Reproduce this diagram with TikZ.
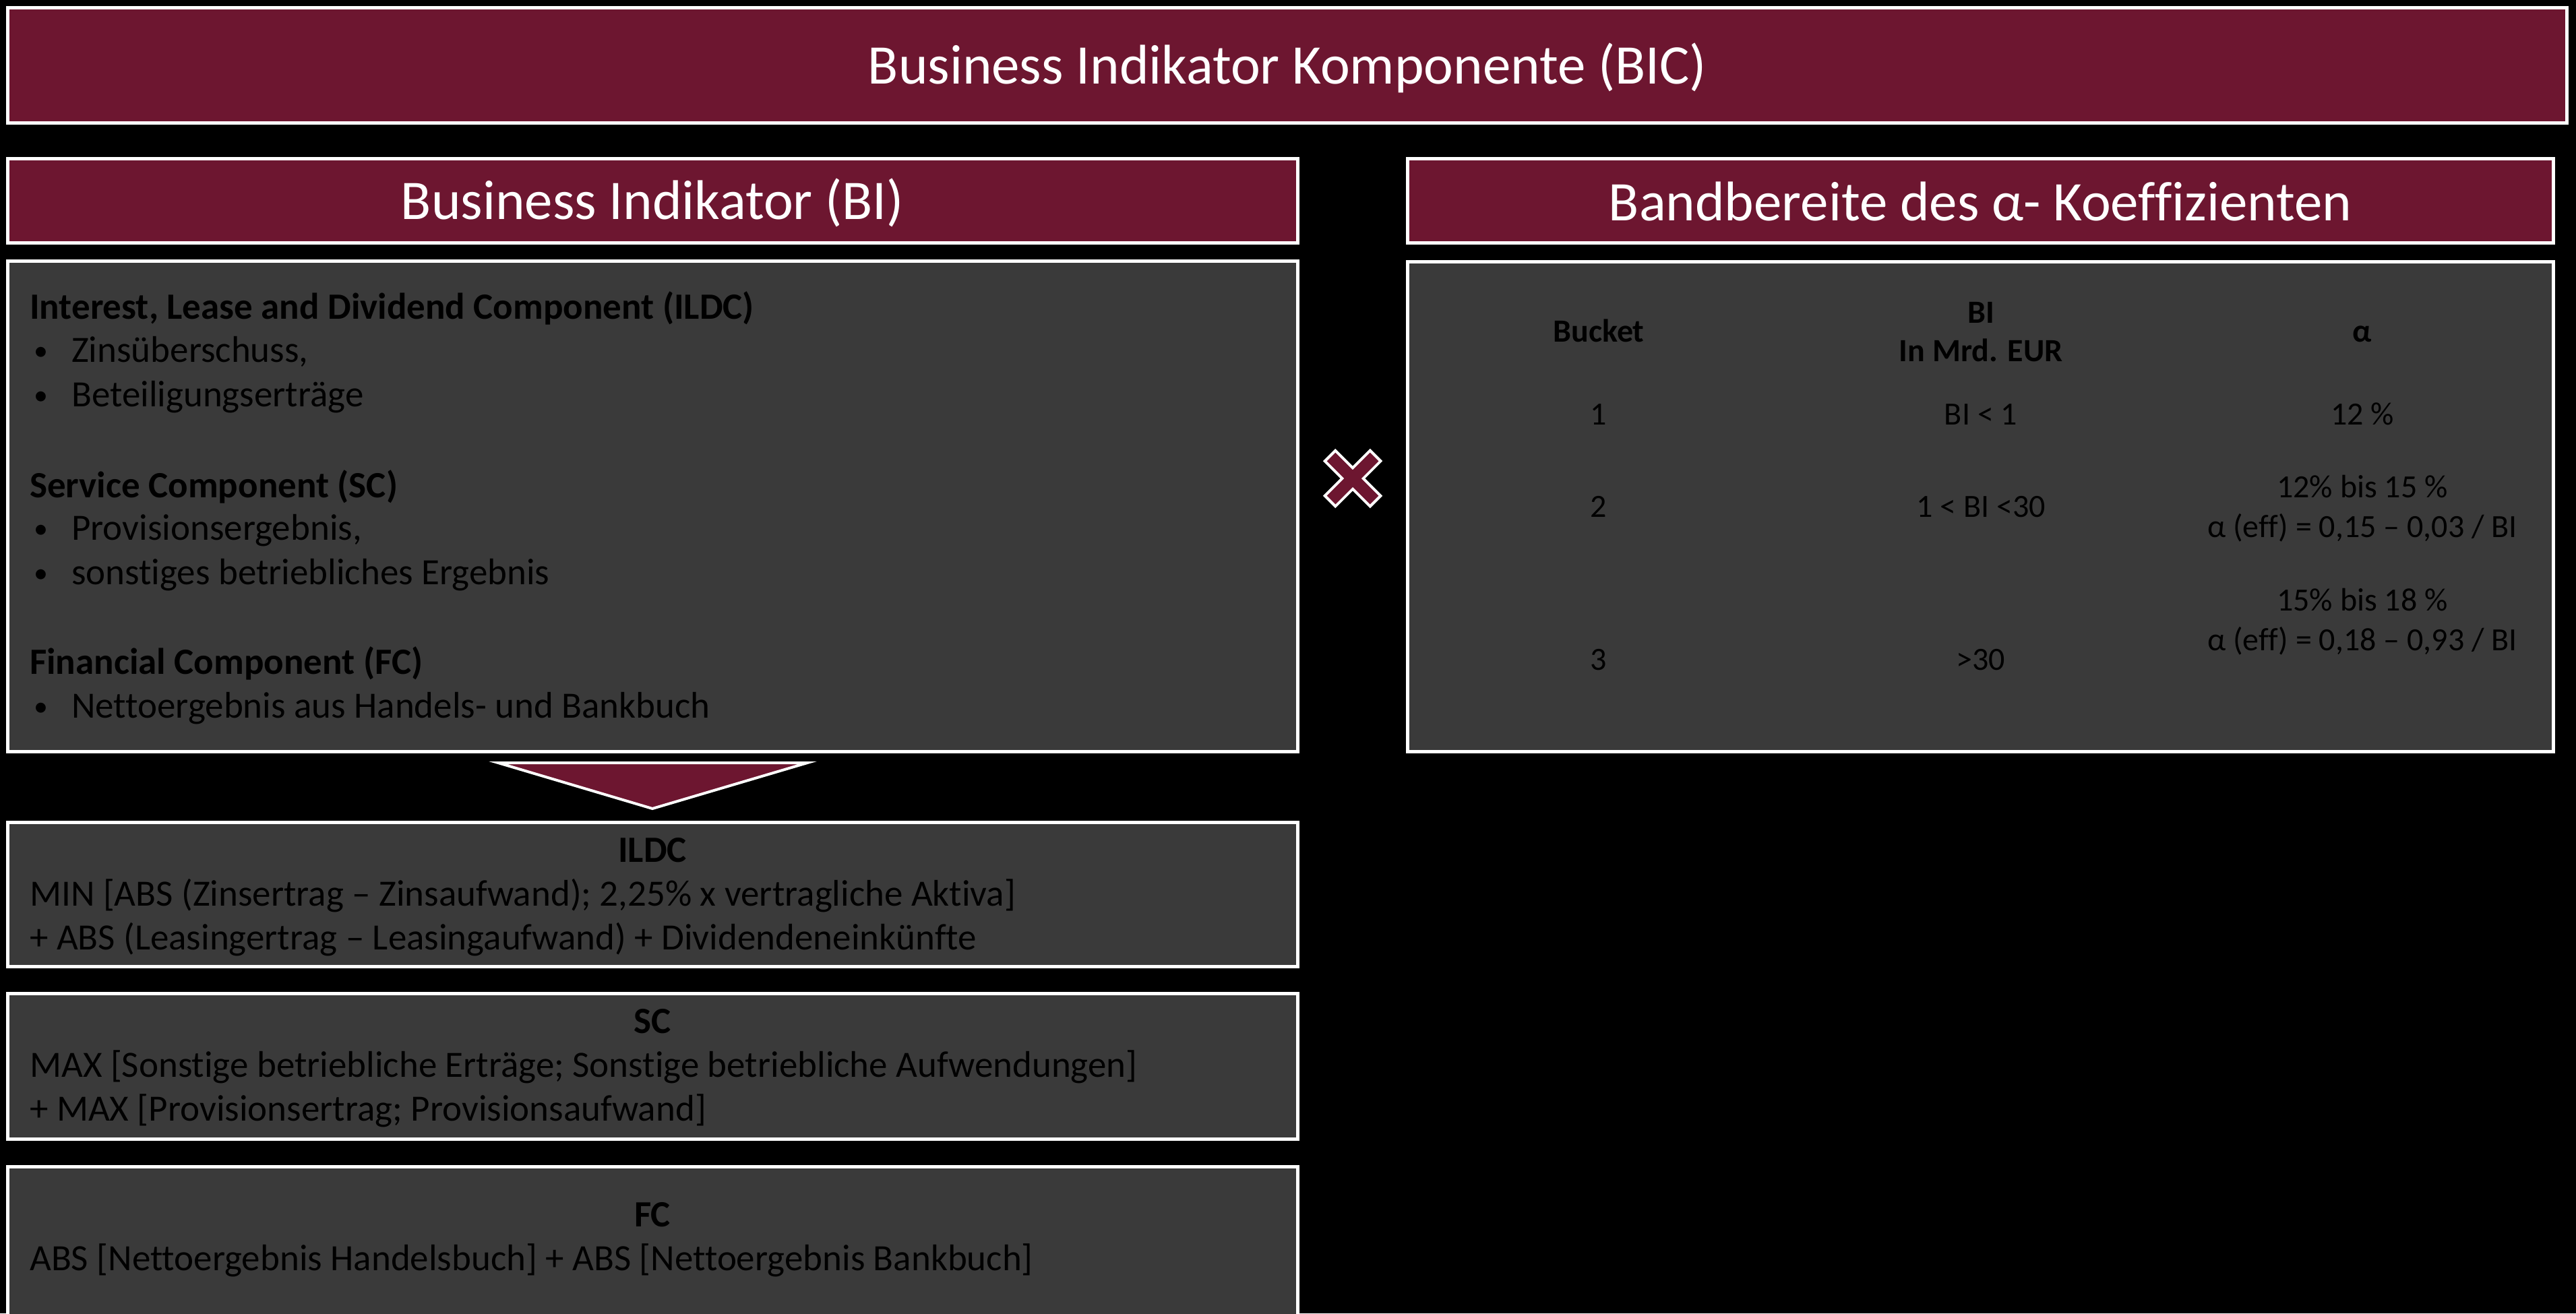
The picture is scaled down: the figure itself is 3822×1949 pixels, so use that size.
\documentclass[tikz,border=0pt]{standalone}
\usepackage{fontspec}
\setmainfont{Carlito}[Ligatures={NoCommon}]
\definecolor{maroon}{RGB}{109,22,48}
\definecolor{boxgray}{RGB}{58,58,58}
\begin{document}
\begin{tikzpicture}[x=1pt,y=-1pt,
  frame/.style={draw=white, line width=5pt, inner sep=0pt, outer sep=0pt, rectangle, anchor=north west},
  headbox/.style={frame, fill=maroon},
  bodybox/.style={frame, fill=boxgray},
  titletxt/.style={text=white, font=\fontsize{83}{100}\selectfont, anchor=base, inner sep=0pt},
  txt/.style={text=black, font=\fontsize{55}{66}\selectfont, anchor=base west, inner sep=0pt},
  bul/.style={txt, font=\fontsize{42}{50}\selectfont},
  btxt/.style={txt, font=\fontsize{55}{66}\selectfont\bfseries},
  ctxt/.style={txt, anchor=base, font=\fontsize{55}{66}\selectfont\bfseries},
  tab/.style={text=black, font=\fontsize{48}{58}\selectfont, anchor=base, inner sep=0pt},
  btab/.style={tab, font=\fontsize{48}{58}\selectfont\bfseries}
]
\useasboundingbox (0,0) rectangle (3822,1949);
\begin{scope}
\clip (0,0) rectangle (3822,1949);
\fill[black] (0,0) rectangle (3822,1949);

% boxes
\node[headbox, minimum width=3797, minimum height=171] (bic) at (11.5,11.5) {};
\node[headbox, minimum width=1914, minimum height=125] (bih) at (11.5,235.5) {};
\node[bodybox, minimum width=1914, minimum height=728] (bibody) at (11.5,387.5) {};
\node[bodybox, minimum width=1914, minimum height=214] (ildc) at (11.5,1220.5) {};
\node[bodybox, minimum width=1914, minimum height=216] (sc) at (11.5,1474.5) {};
\node[bodybox, minimum width=1914, minimum height=400] (fc) at (11.5,1731.5) {};
\node[headbox, minimum width=1700, minimum height=125] (bandh) at (2088.5,235.5) {};
\node[bodybox, minimum width=1700, minimum height=727] (tabbox) at (2088.5,388.5) {};

% titles
\node[titletxt] (bictxt) at (1910,124) {Business Indikator Komponente (BIC)};
\node[titletxt] (bihtxt) at (968,325) {Business Indikator (BI)};
\node[titletxt] (bandtxt) at (2938,327) {Bandbereite des α- Koeffizienten};

% BI body
\node[btxt] (h1) at (44,473) {Interest, Lease and Dividend Component (ILDC)};
\node[bul] (b1) at (50,534) {•};
\node[txt] (l1) at (106,537) {Zinsüberschuss,};
\node[bul] (b2) at (50,600) {•};
\node[txt] (l2) at (106,603) {Beteiligungserträge};
\node[btxt] (h2) at (44,738) {Service Component (SC)};
\node[bul] (b3) at (50,798) {•};
\node[txt] (l3) at (106,801) {Provisionsergebnis,};
\node[bul] (b4) at (50,864) {•};
\node[txt] (l4) at (106,867) {sonstiges betriebliches Ergebnis};
\node[btxt] (h3) at (44,1000) {Financial Component (FC)};
\node[bul] (b5) at (50,1062) {•};
\node[txt] (l5) at (106,1065) {Nettoergebnis aus Handels- und Bankbuch};

% arrow triangle
\coordinate (tl) at (739,1132);
\coordinate (tr) at (1198,1132);
\coordinate (tp) at (968,1200);
\filldraw[fill=maroon, draw=white, line width=4pt] (tl) -- (tr) -- (tp) -- cycle;

% formula boxes
\node[ctxt] (ildch) at (968,1279) {ILDC};
\node[txt] (ildc1) at (44,1344) {MIN [ABS (Zinsertrag – Zinsaufwand); 2,25\% x vertragliche Aktiva]};
\node[txt] (ildc2) at (44,1409) {+ ABS (Leasingertrag – Leasingaufwand) + Dividendeneinkünfte};
\node[ctxt] (sch) at (968,1533) {SC};
\node[txt] (sc1) at (44,1598) {MAX [Sonstige betriebliche Erträge; Sonstige betriebliche Aufwendungen]};
\node[txt] (sc2) at (44,1663) {+ MAX [Provisionsertrag; Provisionsaufwand]};
\node[ctxt] (fch) at (968,1820) {FC};
\node[txt] (fc1) at (44,1885) {ABS [Nettoergebnis Handelsbuch] + ABS [Nettoergebnis Bankbuch]};

% multiply sign
\begin{scope}[shift={(2007,710)}]
\draw[white, line width=26pt] (-35,-35) -- (35,35) (-35,35) -- (35,-35);
\draw[maroon, line width=18pt] (-32,-32) -- (32,32) (-32,32) -- (32,-32);
\end{scope}

% table
\node[btab] (c1h) at (2372,507) {Bucket};
\node[btab] (c2h) at (2939,479) {BI};
\node[btab] (c2h2) at (2939,536) {In Mrd. EUR};
\node[btab] (c3h) at (3505,507) {α};
\node[tab] (r1a) at (2372,630) {1};
\node[tab] (r1b) at (2939,630) {BI < 1};
\node[tab] (r1c) at (3505,630) {12 \%};
\node[tab] (r2a) at (2372,767) {2};
\node[tab] (r2b) at (2939,767) {1 < BI <30};
\node[tab] (r2c) at (3505,738) {12\% bis 15 \%};
\node[tab] (r2d) at (3505,797) {α (eff) = 0,15 – 0,03 / BI};
\node[tab] (r3a) at (2372,994) {3};
\node[tab] (r3b) at (2939,994) {>30};
\node[tab] (r3c) at (3505,906) {15\% bis 18 \%};
\node[tab] (r3d) at (3505,965) {α (eff) = 0,18 – 0,93 / BI};
\end{scope}
\end{tikzpicture}
\end{document}
